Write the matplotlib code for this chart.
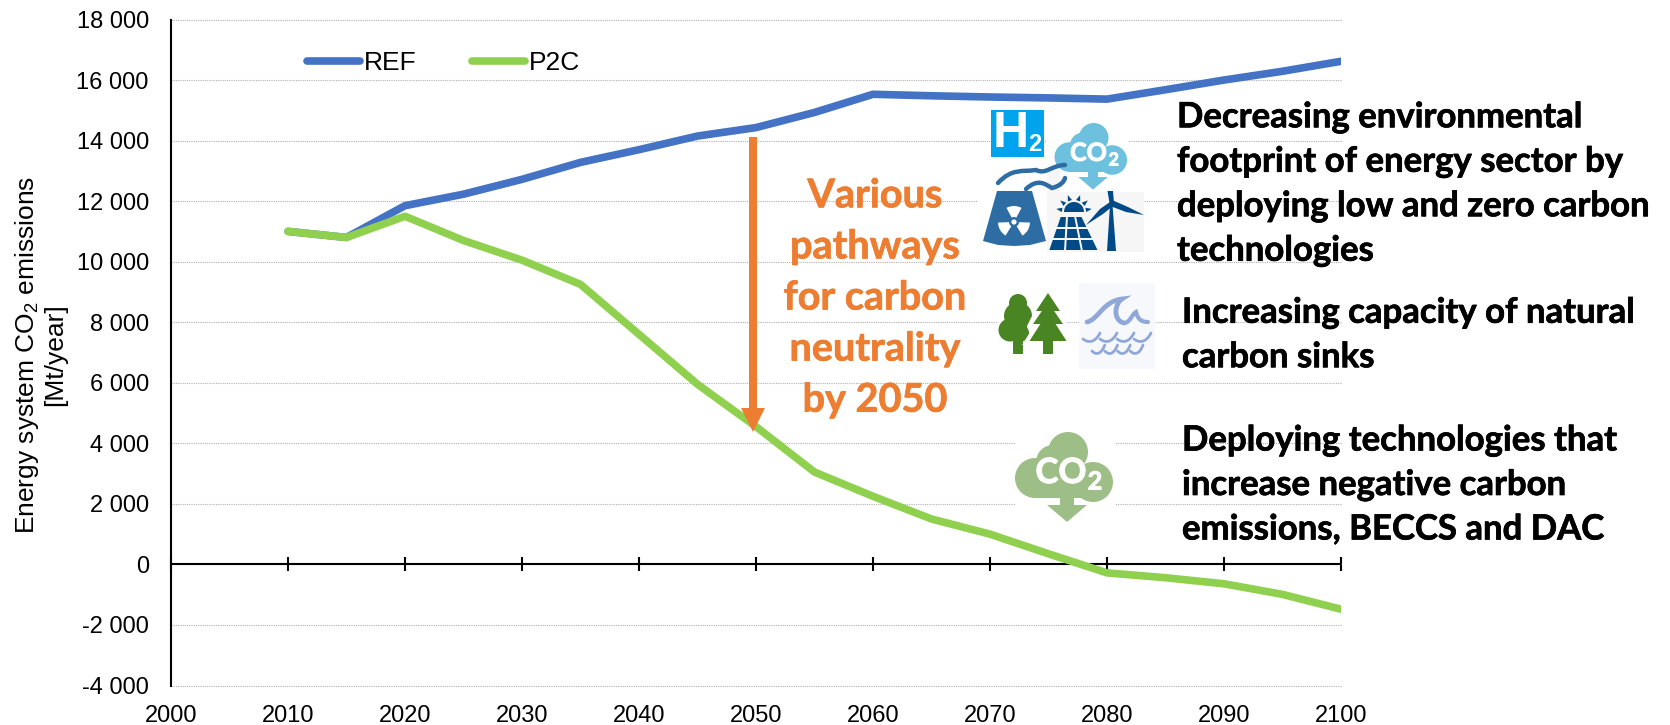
import numpy as np
import matplotlib
matplotlib.use("Agg")
import matplotlib.pyplot as plt
import matplotlib.patheffects as pe
from matplotlib.patches import Polygon, Circle, Rectangle, Wedge, PathPatch
from matplotlib.path import Path

years = [2010, 2015, 2020, 2025, 2030, 2035, 2040, 2045, 2050, 2055, 2060, 2065, 2070, 2075, 2080, 2085, 2090, 2095, 2100]
ref = [11000, 10800, 11850, 12230, 12720, 13280, 13700, 14150, 14430, 14930, 15530, 15480, 15440, 15410, 15370, 15680, 16000, 16290, 16620]
p2c = [11000, 10800, 11500, 10700, 10050, 9250, 7600, 5950, 4550, 3050, 2250, 1500, 1000, 350, -280, -440, -640, -990, -1480]
y_ticks = [-4000, -2000, 0, 2000, 4000, 6000, 8000, 10000, 12000, 14000, 16000, 18000]
x_ticks = [2000, 2010, 2020, 2030, 2040, 2050, 2060, 2070, 2080, 2090, 2100]
y_title = "Energy system CO$_2$ emissions\n[Mt/year]"
orange_text = "Various\npathways\nfor carbon\nneutrality\nby 2050"
notes = ["Decreasing environmental\nfootprint of energy sector by\ndeploying low and zero carbon\ntechnologies",
         "Increasing capacity of natural\ncarbon sinks",
         "Deploying technologies that\nincrease negative carbon\nemissions, BECCS and DAC"]

BLUE, GREEN, ORANGE = "#4472C4", "#8FD14F", "#ED7D31"
W, H = 1670, 725
plt.rcParams["font.family"] = "Liberation Sans"
plt.rcParams["mathtext.default"] = "regular"

fig = plt.figure(figsize=(W / 100, H / 100), dpi=100, facecolor="white")
L, R, T, B = 171, 1341, 19.5, 685.5
ax = fig.add_axes([L / W, 1 - B / H, (R - L) / W, (B - T) / H])
ax.set_xlim(2000, 2100)
ax.set_ylim(-4000, 18000)
for s in ["top", "right", "bottom"]:
    ax.spines[s].set_visible(False)
ax.spines["left"].set_linewidth(1.5)
ax.set_yticks(y_ticks)
ax.set_yticklabels([f"{v:,}".replace(",", " ") for v in y_ticks])
ax.set_xticks(x_ticks)
ax.tick_params(axis="y", length=0, pad=16, labelsize=17)
ax.tick_params(axis="x", length=0, pad=14, labelsize=17)
ax.grid(axis="y", color="#B0B0B0", linestyle=(0, (1, 1)), linewidth=0.8, clip_on=False)
ax.set_axisbelow(True)
ax.set_ylabel(y_title, fontsize=19, linespacing=1.1)
ax.yaxis.set_label_coords((67 - L) / (R - L), 0.5 - (355 - (T + B) / 2) / (B - T))

ax.axhline(0, color="black", lw=1.5, zorder=1.5)
sec = ax.secondary_xaxis(4000 / 22000)
sec.set_xticks(x_ticks)
sec.tick_params(direction="inout", length=10, width=1.5, labelbottom=False, labeltop=False, color="black")
sec.spines["bottom"].set_visible(False)
sec.spines["top"].set_visible(False)

ax.plot(years, ref, color=BLUE, lw=5.5, solid_capstyle="round", solid_joinstyle="round", label="REF", zorder=3)
ax.plot(years, p2c, color=GREEN, lw=5.5, solid_capstyle="round", solid_joinstyle="round", label="P2C", zorder=3)
ax.legend(loc="upper left", bbox_to_anchor=(302 / W, 1 - 46 / H), bbox_transform=fig.transFigure, ncol=2,
          frameon=False, fontsize=19, handlelength=2.0, handletextpad=0.15, columnspacing=2.1, borderpad=0.2,
          borderaxespad=0)

# overlay in pixel coordinates for annotations and pictograms
ov = fig.add_axes([0, 0, 1, 1], facecolor="none")
ov.set_xlim(0, W)
ov.set_ylim(H, 0)
ov.axis("off")


def rect(x0, y0, x1, y1, c="white", z=4):
    ov.add_patch(Rectangle((x0, y0), x1 - x0, y1 - y0, fc=c, ec="none", zorder=z))


def poly(pts, c, z=5):
    ov.add_patch(Polygon(pts, closed=True, fc=c, ec="none", zorder=z))


def circ(x, y, r, c, z=5):
    ov.add_patch(Circle((x, y), r, fc=c, ec="none", zorder=z))


def curve(verts, c, lw, z=5):
    codes = [Path.MOVETO] + [Path.CURVE4] * (len(verts) - 1)
    ov.add_patch(PathPatch(Path(verts, codes), fc="none", ec=c, lw=lw, capstyle="round", zorder=z))


def cloud(cx, top, s, c, fs):
    circ(cx + 1 * s, top + 20 * s, 20 * s, c)
    circ(cx - 32 * s, top + 46 * s, 20 * s, c)
    circ(cx + 26 * s, top + 50 * s, 20 * s, c)
    circ(cx - 14 * s, top + 30 * s, 17 * s, c)
    rect(cx - 32 * s, top + 35 * s, cx + 26 * s, top + 66 * s, c, 5)
    rect(cx - 7 * s, top + 60 * s, cx + 7 * s, top + 74 * s, c, 5)
    poly([(cx - 20 * s, top + 73 * s), (cx + 20 * s, top + 73 * s), (cx, top + 90 * s)], c)
    halo = [pe.withStroke(linewidth=0.7, foreground="white")]
    ov.text(cx - 6 * s, top + 41 * s, "CO", color="white", fontsize=fs, fontweight="bold",
            family="Lato", ha="center", va="center", zorder=6, path_effects=halo)
    ov.text(cx + 28 * s, top + 50 * s, "2", color="white", fontsize=fs * 0.72, fontweight="bold",
            family="Lato", ha="center", va="center", zorder=6, path_effects=halo)


# arrow
poly([(749, 137), (757, 137), (757, 408), (765, 408), (753, 432), (741, 408), (749, 408)], ORANGE, 6)
t_o = ov.text(875, 298, orange_text, color=ORANGE, fontsize=28.5, fontweight="bold", family="Lato",
              ha="center", va="center", linespacing=1.47, zorder=7)
t_o.set_path_effects([pe.withStroke(linewidth=0.5, foreground=ORANGE)])

# right-hand notes
for (x, yc), t in zip([(1177, 184), (1182, 335), (1182, 485)], notes):
    tx = ov.text(x, yc, t, color="black", fontsize=25, fontweight="bold", family="Lato",
                 ha="left", va="center", linespacing=1.48, zorder=7)
    tx.set_path_effects([pe.withStroke(linewidth=0.5, foreground="black")])

# H2 tile
rect(991, 110, 1044, 157, "#00A4EC", 5)
ov.text(1011, 134, "H", color="white", fontsize=36, fontweight="bold", family="Liberation Sans",
        ha="center", va="center", zorder=6)
ov.text(1035, 144, "2", color="white", fontsize=17, fontweight="bold", family="Liberation Sans",
        ha="center", va="center", zorder=6)

# blue cloud
rect(1047, 118, 1128, 192)
cloud(1093, 123, 0.74, "#6EC1DE", 18)

# nuclear plant
rect(978, 165, 1047, 250)
NUC = "#2E6DA4"
poly([(997, 191), (1032, 191), (1046, 241), (1030, 245), (1014, 246), (998, 245), (983, 241)], NUC)
for a in [90, 210, 330]:
    ov.add_patch(Wedge((1014, 222), 16, -a - 28, -a + 28, width=11, fc="white", ec="none", zorder=6))
circ(1014, 222, 2.6, "white", 6)
curve([(998, 183), (1012, 168), (1022, 172), (1036, 170), (1046, 175), (1052, 165), (1065, 165)], NUC, 3.2)
curve([(1026, 189), (1038, 178), (1045, 184), (1052, 188), (1060, 186), (1064, 182), (1065, 178)], NUC, 3.2)

# solar and wind
rect(1047, 192, 1144, 252, "#F6F6F6", 4)
rect(1047, 168, 1060, 192, "#F6F6F6", 4)
NAVY = "#004A87"
ov.add_patch(Wedge((1074, 212), 10, 180, 360, fc=NAVY, ec="none", zorder=5))
for a in [-170, -140, -110, -70, -40, -10]:
    ra = np.radians(a)
    ux, uy = np.cos(ra), np.sin(ra)
    px, py = -uy, ux
    bx, by = 1074 + 12 * ux, 212 + 12 * uy
    poly([(bx + 2.2 * px, by + 2.2 * py), (bx - 2.2 * px, by - 2.2 * py), (bx + 6 * ux, by + 6 * uy)], NAVY)
xt = [1060, 1067, 1075, 1082]
xb = [1048, 1065, 1082, 1099]
yr = [216, 228, 239, 251]
for i in range(3):
    for j in range(3):
        f0, f1 = (yr[i] - 216 + 1) / 35, (yr[i + 1] - 216 - 1) / 35
        a0 = xt[j] + (xb[j] - xt[j]) * f0 + 1
        a1 = xt[j + 1] + (xb[j + 1] - xt[j + 1]) * f0 - 1
        b0 = xt[j] + (xb[j] - xt[j]) * f1 + 1
        b1 = xt[j + 1] + (xb[j + 1] - xt[j + 1]) * f1 - 1
        poly([(a0, yr[i] + 1), (a1, yr[i] + 1), (b1, yr[i + 1] - 1), (b0, yr[i + 1] - 1)], NAVY)
poly([(1110, 205), (1112.5, 205), (1116, 251), (1107, 251)], NAVY)
poly([(1107.5, 191), (1113, 191), (1114, 203), (1110, 206)], NAVY)
poly([(1112, 200), (1128, 207), (1144, 215), (1126, 212), (1110, 206)], NAVY)
poly([(1110, 202), (1100, 209), (1086, 225), (1103, 214), (1113, 206)], NAVY)

# trees
rect(998, 285, 1067, 360)
TREE = "#4A8523"
circ(1018, 303, 9, TREE)
circ(1018, 316, 14, TREE)
circ(1010, 330, 11.5, TREE)
circ(1020, 333, 9, TREE)
rect(1013, 335, 1023, 354, TREE, 5)
poly([(1034, 312), (1027, 326), (1034, 326), (1022, 345), (1040, 345), (1041, 312)], "white", 6)
CX = 1048
poly([(CX, 293), (CX + 12, 311), (CX - 12, 311)], TREE, 7)
poly([(CX, 302), (CX + 15, 324), (CX - 15, 324)], TREE, 7)
poly([(CX, 312), (CX + 18.5, 341), (CX - 18.5, 341)], TREE, 7)
rect(CX - 5, 340, CX + 5, 354, TREE, 7)

# wave
rect(1079, 283, 1155, 369, "#F6F8FC", 4)
WAVE = "#8FA8D8"
curve([(1087, 322), (1098, 320), (1103, 301), (1122, 299), (1115, 303), (1112, 320), (1124, 323)], WAVE, 3.4)
curve([(1124, 323), (1130, 323), (1132, 314), (1136, 312), (1138, 320), (1142, 322), (1148, 322)], WAVE, 3)
for x0, x1, y0, n in [(1083, 1151, 339, 4), (1092, 1143, 351, 4)]:
    step = (x1 - x0) / n
    for k in range(n):
        a = x0 + k * step
        curve([(a, y0), (a + step * 0.3, y0 + 4), (a + step * 0.7, y0 + 4), (a + step, y0 - 6)], WAVE, 2)

# green cloud
rect(1015, 425, 1115, 526)
cloud(1067, 432, 1.0, "#9DBF87", 25)

fig.savefig("out.png", dpi=100)
